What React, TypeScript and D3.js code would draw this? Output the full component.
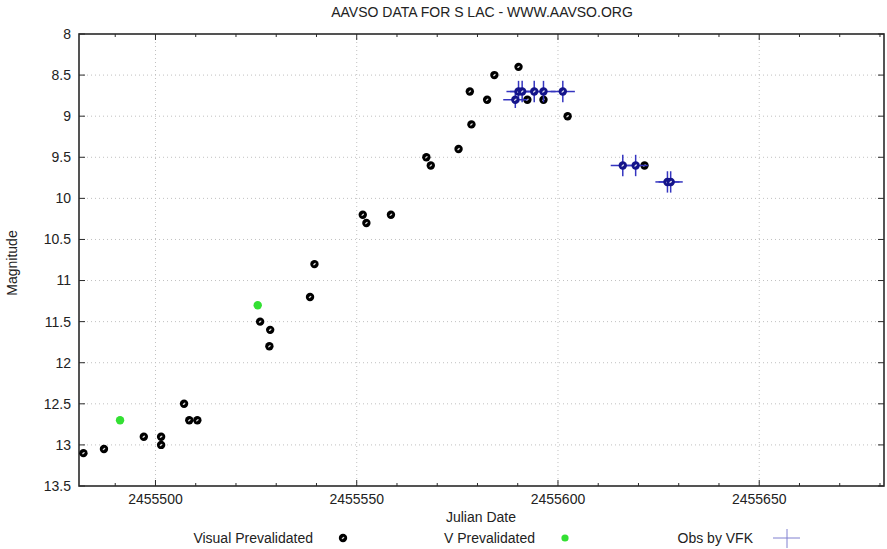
import * as d3 from 'd3';

// Visual Prevalidated (black)
const visualJD = [
  2455482.1, 2455487.2, 2455497.1, 2455501.4, 2455501.4, 2455507.1, 2455508.4, 2455510.4,
  2455526.0, 2455528.5, 2455528.3, 2455538.4, 2455539.5, 2455551.5, 2455552.4, 2455558.5,
  2455567.3, 2455568.4, 2455575.3, 2455578.5, 2455578.1, 2455582.4, 2455584.2, 2455590.2,
  2455592.4, 2455596.4, 2455602.4, 2455621.5,
];
const visualMag = [
  13.1, 13.05, 12.9, 12.9, 13.0, 12.5, 12.7, 12.7,
  11.5, 11.6, 11.8, 11.2, 10.8, 10.2, 10.3, 10.2,
  9.5, 9.6, 9.4, 9.1, 8.7, 8.8, 8.5, 8.4,
  8.8, 8.8, 9.0, 9.6,
];

// V Prevalidated (green)
const vJD = [2455491.2, 2455525.4];
const vMag = [12.7, 11.3];

// Obs by VFK (blue, with error bars)
const vfkJD = [
  2455589.4, 2455590.2, 2455591.1, 2455594.1, 2455596.4, 2455601.2,
  2455616.1, 2455619.3, 2455627.2, 2455628.0,
];
const vfkMag = [8.8, 8.7, 8.7, 8.7, 8.7, 8.7, 9.6, 9.6, 9.8, 9.8];
const vfkMagErr = [0.1, 0.13, 0.13, 0.13, 0.13, 0.13, 0.13, 0.13, 0.13, 0.13];
const vfkJDErr = [3, 3, 3, 3, 3, 3, 3, 3, 3, 3];

const xMajorTicks = [2455500, 2455550, 2455600, 2455650];
const yTicks = [8, 8.5, 9, 9.5, 10, 10.5, 11, 11.5, 12, 12.5, 13, 13.5];

const W = 887;
const H = 549;
const FONT = '"Liberation Sans", Arial, sans-serif';
const FS = 14;

function Marker({ cx, cy, fill }: { cx: number; cy: number; fill: string }) {
  return (
    <g transform={`translate(${cx},${cy})`}>
      <circle r={4.2} fill={fill} />
      <ellipse rx={1.6} ry={0.75} fill="#ffffff" transform="rotate(-40)" opacity={0.85} />
    </g>
  );
}

export default function App() {
  const x = d3.scaleLinear().domain([2455481, 2455681]).range([79, 884]);
  const y = d3.scaleLinear().domain([8, 13.5]).range([34, 486]);
  const [x0, x1] = x.range();
  const [y0, y1] = y.range();
  const minorTicks = d3.range(2455490, 2455681, 10).filter((t) => !xMajorTicks.includes(t));
  const border = '#2a2a2a';
  const grid = '#c0c0c0';
  const blue = '#3535c0';

  return (
    <div style={{ position: 'fixed', left: 0, top: 0 }}>
      <svg width={W} height={H} style={{ display: 'block', background: '#fff' }} fontFamily={FONT}>
        {/* grid */}
        {yTicks.slice(1, -1).map((t) => (
          <line key={'gy' + t} x1={x0} x2={x1} y1={y(t)} y2={y(t)} stroke={grid} strokeWidth={1} strokeDasharray="1,3" />
        ))}
        {xMajorTicks.map((t) => (
          <line key={'gx' + t} x1={x(t)} x2={x(t)} y1={y0} y2={y1} stroke={grid} strokeWidth={1} strokeDasharray="1,3" />
        ))}

        {/* ticks */}
        {xMajorTicks.map((t) => (
          <g key={'tx' + t}>
            <line x1={x(t)} x2={x(t)} y1={y1} y2={y1 - 6} stroke={border} />
            <line x1={x(t)} x2={x(t)} y1={y0} y2={y0 + 6} stroke={border} />
          </g>
        ))}
        {minorTicks.map((t) => (
          <g key={'mx' + t}>
            <line x1={x(t)} x2={x(t)} y1={y1} y2={y1 - 3} stroke={border} />
            <line x1={x(t)} x2={x(t)} y1={y0} y2={y0 + 3} stroke={border} />
          </g>
        ))}
        {yTicks.map((t) => (
          <g key={'ty' + t}>
            <line x1={x0} x2={x0 + 6} y1={y(t)} y2={y(t)} stroke={border} />
            <line x1={x1} x2={x1 - 6} y1={y(t)} y2={y(t)} stroke={border} />
          </g>
        ))}

        {/* frame */}
        <rect x={x0} y={y0} width={x1 - x0} height={y1 - y0} fill="none" stroke={border} strokeWidth={1.6} />

        {/* tick labels */}
        {yTicks.map((t) => (
          <text key={'ly' + t} x={71} y={y(t)} dy="0.35em" textAnchor="end" fontSize={FS} fill="#222">
            {t}
          </text>
        ))}
        {xMajorTicks.map((t) => (
          <text key={'lx' + t} x={x(t)} y={504} textAnchor="middle" fontSize={FS} fill="#222">
            {t}
          </text>
        ))}

        {/* titles */}
        <text x={482} y={17} textAnchor="middle" fontSize={FS} fill="#222">
          AAVSO DATA FOR S LAC - WWW.AAVSO.ORG
        </text>
        <text x={481} y={522} textAnchor="middle" fontSize={FS} fill="#222">
          Julian Date
        </text>
        <text transform="translate(17,263) rotate(-90)" textAnchor="middle" fontSize={FS} fill="#222">
          Magnitude
        </text>

        {/* visual points */}
        {visualJD.map((jd, i) => (
          <Marker key={'v' + i} cx={x(jd)} cy={y(visualMag[i])} fill="#000" />
        ))}

        {/* V prevalidated */}
        {vJD.map((jd, i) => (
          <circle key={'g' + i} cx={x(jd)} cy={y(vMag[i])} r={4.2} fill="#33e033" />
        ))}

        {/* VFK error bars + points */}
        {vfkJD.map((jd, i) => (
          <g key={'eb' + i} stroke={blue} strokeWidth={1.5}>
            <line x1={x(jd - vfkJDErr[i])} x2={x(jd + vfkJDErr[i])} y1={y(vfkMag[i])} y2={y(vfkMag[i])} />
            <line x1={x(jd)} x2={x(jd)} y1={y(vfkMag[i] - vfkMagErr[i])} y2={y(vfkMag[i] + vfkMagErr[i])} />
          </g>
        ))}
        {vfkJD.map((jd, i) => (
          <Marker key={'b' + i} cx={x(jd)} cy={y(vfkMag[i])} fill="#14148a" />
        ))}

        {/* legend */}
        <text x={313} y={543} textAnchor="end" fontSize={FS} fill="#222">
          Visual Prevalidated
        </text>
        <Marker cx={343} cy={538} fill="#000" />
        <text x={535} y={543} textAnchor="end" fontSize={FS} fill="#222">
          V Prevalidated
        </text>
        <circle cx={565} cy={538} r={3.6} fill="#33e033" />
        <text x={753} y={543} textAnchor="end" fontSize={FS} fill="#222">
          Obs by VFK
        </text>
        <line x1={773} x2={800} y1={538} y2={538} stroke="#8080d0" strokeWidth={1} />
        <line x1={787} x2={787} y1={529} y2={548} stroke="#8080d0" strokeWidth={1} />
      </svg>
    </div>
  );
}
